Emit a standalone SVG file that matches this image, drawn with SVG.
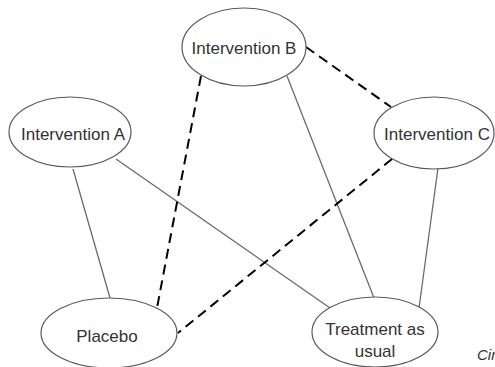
<svg xmlns="http://www.w3.org/2000/svg" width="495" height="367" viewBox="0 0 495 367">
<style>
.n ellipse{fill:#fff;stroke:#595959;stroke-width:1.2}
.n text{font-family:"Liberation Sans",Arial,sans-serif;font-size:17px;fill:#333;text-anchor:middle}
.s{stroke:#6b6b6b;stroke-width:1.3;fill:none}
.d{stroke:#000;stroke-width:2;stroke-dasharray:10,6;fill:none}
.cap{font-family:"Liberation Sans",Arial,sans-serif;font-size:15px;font-style:italic;fill:#333}
</style>
<rect width="495" height="367" fill="#fff"/>
<g id="connectors">
<line class="s" x1="73" y1="169" x2="110" y2="298"/>
<line class="s" x1="116" y1="159" x2="330" y2="308"/>
<line class="d" x1="201" y1="76" x2="157" y2="308"/>
<line class="s" x1="287" y1="76" x2="374" y2="298"/>
<line class="d" x1="306" y1="47" x2="391" y2="107"/>
<line class="d" x1="392" y1="159" x2="178" y2="333"/>
<line class="s" x1="438" y1="168" x2="419" y2="308"/>
</g>
<g id="interventionB" class="n"><ellipse cx="244" cy="47" rx="62" ry="39"/><text x="244" y="54">Intervention B</text></g>
<g id="interventionA" class="n"><ellipse cx="70" cy="132" rx="61" ry="35"/><text x="73" y="140">Intervention A</text></g>
<g id="interventionC" class="n"><ellipse cx="434" cy="133" rx="60" ry="36"/><text x="437" y="140">Intervention C</text></g>
<g id="placebo" class="n"><ellipse cx="109" cy="333" rx="68" ry="35"/><text x="107" y="342">Placebo</text></g>
<g id="treatment" class="n"><ellipse cx="375" cy="332" rx="63" ry="35"/><text x="375" y="335">Treatment as</text><text x="375" y="357">usual</text></g>
<text class="cap" x="477" y="360">Cir</text>
</svg>
